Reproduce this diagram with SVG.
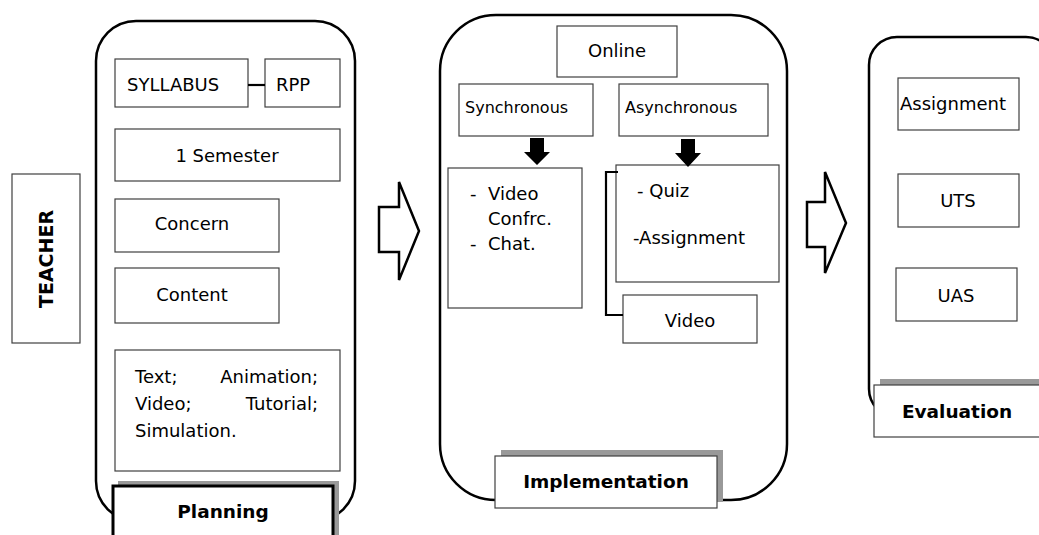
<svg xmlns="http://www.w3.org/2000/svg" width="1039" height="535" viewBox="0 0 1039 535">
<style>
  text { font-family: "DejaVu Sans", Verdana, sans-serif; font-size: 18px; fill: #000; }
  .sm { font-size: 16px; }
  .b { font-weight: bold; font-size: 18.5px; }
  .mid { text-anchor: middle; }
  .panel { fill: #fff; stroke: #000; stroke-width: 2.5; }
  .box { fill: #fff; stroke: #404040; stroke-width: 1.2; }
  .shadow { fill: #999; stroke: none; }
  .conn { fill: none; stroke: #000; stroke-width: 2.2; }
  .hollow { fill: #fff; stroke: #000; stroke-width: 2.5; stroke-linejoin: miter; }
  .solid { fill: #000; stroke: none; }
</style>
<rect width="1039" height="535" fill="#fff"/>

<g id="teacher">
  <rect class="box" x="12" y="174" width="68" height="169"/>
  <text class="b mid" transform="translate(53 259) rotate(-90)" style="font-size:19px">TEACHER</text>
</g>

<g id="planning-panel">
  <rect class="panel" x="96" y="21" width="259" height="500" rx="40" ry="40"/>
</g>
<g id="syllabus">
  <rect class="box" x="115" y="59" width="133" height="48"/>
  <text x="127" y="91">SYLLABUS</text>
</g>
<g id="rpp">
  <rect class="box" x="265" y="59" width="75" height="48"/>
  <text x="276" y="91">RPP</text>
</g>
<g id="semester">
  <rect class="box" x="115" y="129" width="225" height="52"/>
  <text class="mid" x="227" y="162">1 Semester</text>
</g>
<g id="concern">
  <rect class="box" x="115" y="199" width="164" height="53"/>
  <text class="mid" x="192" y="230">Concern</text>
</g>
<g id="content">
  <rect class="box" x="115" y="268" width="164" height="55"/>
  <text class="mid" x="192" y="301">Content</text>
</g>
<g id="media">
  <rect class="box" x="115" y="350" width="225" height="121"/>
  <text x="135" y="383">Text;</text>
  <text x="318" y="383" text-anchor="end">Animation;</text>
  <text x="135" y="410">Video;</text>
  <text x="318" y="410" text-anchor="end">Tutorial;</text>
  <text x="135" y="437">Simulation.</text>
</g>
<g id="planning-label">
  <rect class="shadow" x="118" y="481" width="221" height="70"/>
  <rect x="113" y="486" width="220" height="60" fill="#fff" stroke="#000" stroke-width="3"/>
  <text class="b mid" x="223" y="518">Planning</text>
</g>

<g id="arrow-1">
  <path class="hollow" d="M379,207 H399 V182 L419,231 L399,280 V252 H379 Z"/>
</g>

<g id="implementation-panel">
  <rect class="panel" x="440" y="15" width="347" height="485" rx="56" ry="56"/>
</g>
<g id="online">
  <rect class="box" x="557" y="26" width="120" height="51"/>
  <text class="mid" x="617" y="57">Online</text>
</g>
<g id="synchronous">
  <rect class="box" x="459" y="84" width="134" height="52"/>
  <text class="sm" x="465" y="113">Synchronous</text>
</g>
<g id="asynchronous">
  <rect class="box" x="619" y="84" width="149" height="52"/>
  <text class="sm" x="625" y="113">Asynchronous</text>
</g>
<g id="sync-tools">
  <rect class="box" x="448" y="168" width="134" height="140"/>
  <text x="470" y="200">-</text>
  <text x="488" y="200">Video</text>
  <text x="488" y="225">Confrc.</text>
  <text x="470" y="250">-</text>
  <text x="488" y="250">Chat.</text>
</g>
<g id="async-tools">
  <rect class="box" x="616" y="165" width="163" height="117"/>
  <text x="637" y="197">- Quiz</text>
  <text x="633" y="244">-Assignment</text>
</g>
<g id="video">
  <rect class="box" x="623" y="295" width="134" height="48"/>
  <text class="mid" x="690" y="327">Video</text>
</g>
<g id="implementation-label">
  <rect class="shadow" x="501" y="450" width="222" height="52"/>
  <rect class="box" x="495" y="456" width="222" height="52"/>
  <text class="b mid" x="606" y="488">Implementation</text>
</g>

<g id="arrow-2">
  <path class="hollow" d="M807,202 H825 V172 L846,223 L825,273 V247 H807 Z"/>
</g>

<g id="evaluation-panel">
  <rect class="panel" x="869" y="37" width="185" height="380" rx="28" ry="28"/>
</g>
<g id="assignment">
  <rect class="box" x="898" y="78" width="121" height="52"/>
  <text x="900" y="110">Assignment</text>
</g>
<g id="uts">
  <rect class="box" x="898" y="174" width="121" height="53"/>
  <text class="mid" x="958" y="207">UTS</text>
</g>
<g id="uas">
  <rect class="box" x="896" y="268" width="121" height="53"/>
  <text class="mid" x="956" y="302">UAS</text>
</g>
<g id="evaluation-label">
  <rect class="shadow" x="880" y="379" width="170" height="52"/>
  <rect class="box" x="874" y="385" width="176" height="52"/>
  <text class="b mid" x="957" y="418">Evaluation</text>
</g>

<g id="connectors">
  <line class="conn" x1="248" y1="85" x2="265" y2="85"/>
  <path class="conn" d="M618,172 H606 V315 H623"/>
  <path class="solid" d="M530,138 H544 V152 H550 L537,165 L524,152 H530 Z"/>
  <path class="solid" d="M681,139 H695 V153 H701 L688,167 L675,153 H681 Z"/>
</g>
</svg>
